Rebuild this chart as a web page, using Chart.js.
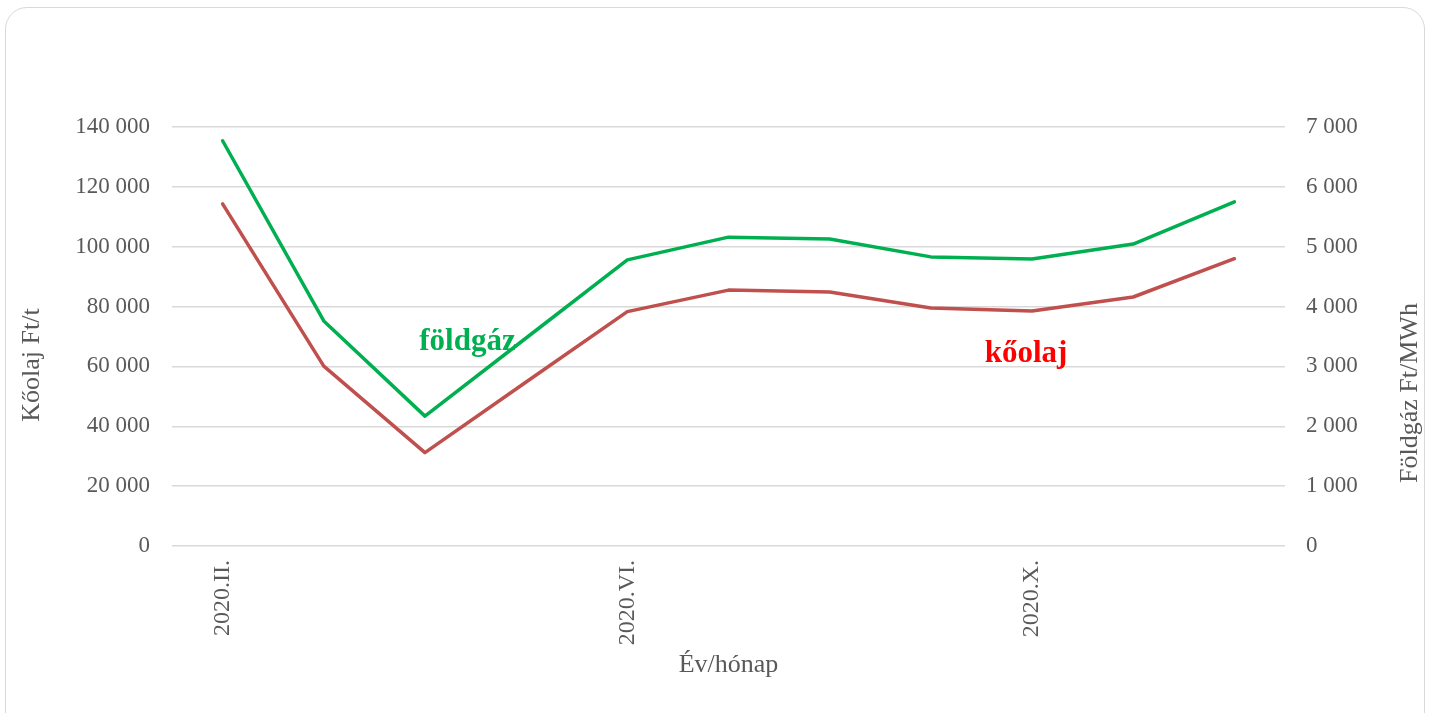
<!DOCTYPE html>
<html>
<head>
<meta charset="utf-8">
<script src="https://cdn.jsdelivr.net/npm/chart.js@4.4.1/dist/chart.umd.min.js"></script>
<style>
  html, body { margin: 0; padding: 0; background: #fff; overflow: hidden; }
  .frame {
    position: absolute; left: 5px; top: 7px; width: 1420px; height: 730px;
    border: 1.5px solid #d9d9d9; border-radius: 22px; box-sizing: border-box;
  }
  .chartBox { position: absolute; left: 0; top: 0; width: 1431px; height: 713px; }
</style>
</head>
<body>
<div class="frame"></div>
<div class="chartBox"><canvas id="arak"></canvas></div>
<script>
// data
const honapok = ['2020.II.', '2020.III.', '2020.IV.', '2020.V.', '2020.VI.', '2020.VII.',
                 '2020.VIII.', '2020.IX.', '2020.X.', '2020.XI.', '2020.XII.'];
const koolaj = [114300, 60100, 31200, 54800, 78300, 85500, 84900, 79500, 78500, 83200, 96000];
const foldgaz = [6770, 3760, 2170, 3475, 4780, 5160, 5130, 4830, 4795, 5045, 5750];
const balTengely = { min: 0, max: 140000, step: 20000 };
const jobbTengely = { min: 0, max: 7000, step: 1000 };
// series labels placed in data space: [category index, left-axis value]
const feliratok = [
  { text: 'földgáz', color: '#00B050', at: [2.42, 65500] },
  { text: 'kőolaj', color: '#FF0000', at: [7.94, 61500] }
];

const serif = '"Liberation Serif", "Times New Roman", serif';
const gray = '#595959';

const ezres = (v) => String(v).replace(/\B(?=(\d{3})+(?!\d))/g, ' ');

// axis titles + in-plot series labels
const szovegek = {
  id: 'szovegek',
  afterDraw(chart) {
    const ctx = chart.ctx;
    const x = chart.scales.x, y = chart.scales.y;
    ctx.save();
    ctx.textBaseline = 'middle';
    ctx.textAlign = 'center';
    ctx.fillStyle = gray;
    ctx.font = '26px ' + serif;
    [['Kőolaj Ft/t', 32, 365], ['Földgáz Ft/MWh', 1410, 393]].forEach(([t, tx, ty]) => {
      ctx.save();
      ctx.translate(tx, ty);
      ctx.rotate(-Math.PI / 2);
      ctx.fillText(t, 0, 0);
      ctx.restore();
    });
    ctx.font = 'bold 31px ' + serif;
    ctx.textBaseline = 'alphabetic';
    feliratok.forEach((f) => {
      ctx.fillStyle = f.color;
      ctx.fillText(f.text, x.getPixelForValue(f.at[0]), y.getPixelForValue(f.at[1]));
    });
    ctx.restore();
  }
};

new Chart(document.getElementById('arak'), {
  type: 'line',
  data: {
    labels: honapok,
    datasets: [
      {
        label: 'kőolaj',
        data: koolaj,
        yAxisID: 'y',
        borderColor: '#C0504D',
        backgroundColor: '#C0504D',
        borderWidth: 3.5,
        pointRadius: 0,
        tension: 0,
        borderCapStyle: 'round',
        borderJoinStyle: 'round',
        fill: false
      },
      {
        label: 'földgáz',
        data: foldgaz,
        yAxisID: 'y1',
        borderColor: '#00B050',
        backgroundColor: '#00B050',
        borderWidth: 3.5,
        pointRadius: 0,
        tension: 0,
        borderCapStyle: 'round',
        borderJoinStyle: 'round',
        fill: false
      }
    ]
  },
  options: {
    responsive: true,
    maintainAspectRatio: false,
    animation: false,
    layout: { padding: { top: 127, left: 0, right: 0, bottom: 0 } },
    plugins: {
      legend: { display: false },
      tooltip: { enabled: false }
    },
    scales: {
      x: {
        offset: true,
        afterFit: (s) => { s.height = 167; },
        grid: { display: false, drawTicks: false },
        border: { display: false },
        ticks: {
          autoSkip: false,
          maxRotation: 90,
          minRotation: 90,
          padding: 14,
          color: gray,
          font: { family: serif, size: 24 },
          callback: function (value, index) {
            return index % 4 === 0 ? this.getLabelForValue(value) : '';
          }
        },
        title: {
          display: true,
          text: 'Év/hónap',
          color: gray,
          font: { family: serif, size: 26 },
          padding: { top: 0, bottom: 32 }
        }
      },
      y: {
        position: 'left',
        min: balTengely.min,
        max: balTengely.max,
        afterFit: (s) => { s.width = 172; },
        grid: { color: '#d9d9d9', lineWidth: 1.5, drawTicks: false },
        border: { display: false },
        ticks: {
          stepSize: balTengely.step,
          padding: 22,
          color: gray,
          font: { family: serif, size: 23 },
          callback: (v) => ezres(v)
        }
      },
      y1: {
        position: 'right',
        min: jobbTengely.min,
        max: jobbTengely.max,
        afterFit: (s) => { s.width = 146; },
        grid: { display: false, drawTicks: false },
        border: { display: false },
        ticks: {
          stepSize: jobbTengely.step,
          padding: 21,
          color: gray,
          font: { family: serif, size: 23 },
          callback: (v) => ezres(v)
        }
      }
    }
  },
  plugins: [szovegek]
});
</script>
</body>
</html>
